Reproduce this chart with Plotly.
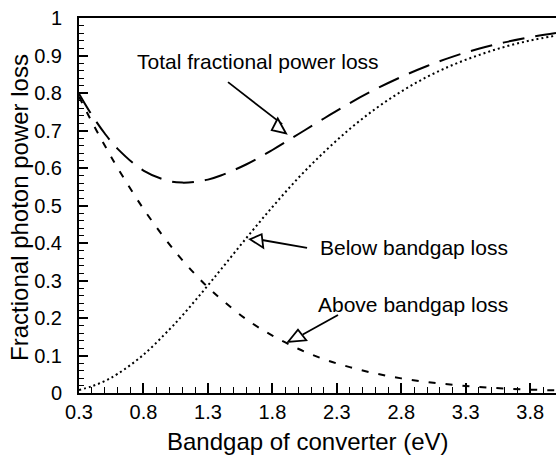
import plotly.graph_objects as go

# Data
bandgap_ev = [0.3, 0.4, 0.5, 0.6, 0.8, 1.0, 1.1, 1.2, 1.3, 1.4, 1.6, 1.8, 2.0,
              2.2, 2.4, 2.6, 2.8, 3.0, 3.2, 3.4, 3.6, 3.8, 4.0]
below_loss = [0.008, 0.018, 0.032, 0.051, 0.102, 0.169, 0.206, 0.246, 0.287,
              0.329, 0.414, 0.496, 0.573, 0.642, 0.704, 0.758, 0.804, 0.843,
              0.875, 0.901, 0.923, 0.940, 0.953]
above_loss = [0.790, 0.723, 0.660, 0.600, 0.491, 0.397, 0.355, 0.317, 0.282,
              0.251, 0.196, 0.153, 0.118, 0.090, 0.069, 0.052, 0.039, 0.029,
              0.022, 0.016, 0.012, 0.009, 0.007]
total_loss = [0.798, 0.741, 0.692, 0.651, 0.593, 0.565, 0.561, 0.563, 0.569,
              0.580, 0.610, 0.648, 0.690, 0.732, 0.773, 0.810, 0.843, 0.872,
              0.897, 0.918, 0.935, 0.949, 0.960]

x_ticks = [0.3, 0.8, 1.3, 1.8, 2.3, 2.8, 3.3, 3.8]
x_tick_labels = ["0.3", "0.8", "1.3", "1.8", "2.3", "2.8", "3.3", "3.8"]
y_ticks = [0, 0.1, 0.2, 0.3, 0.4, 0.5, 0.6, 0.7, 0.8, 0.9, 1]
y_tick_labels = ["0", "0.1", "0.2", "0.3", "0.4", "0.5", "0.6", "0.7", "0.8", "0.9", "1"]

x_title = "Bandgap of converter (eV)"
y_title = "Fractional photon power loss"

FONT = "Liberation Sans, Arial, Helvetica, sans-serif"

fig = go.Figure()
fig.add_trace(go.Scatter(x=bandgap_ev, y=total_loss, mode="lines",
                         line=dict(color="black", width=2, dash="22px,11px", shape="spline"),
                         name="Total fractional power loss", showlegend=False))
fig.add_trace(go.Scatter(x=bandgap_ev, y=above_loss, mode="lines",
                         line=dict(color="black", width=2, dash="7px,10px", shape="spline"),
                         name="Above bandgap loss", showlegend=False))
fig.add_trace(go.Scatter(x=bandgap_ev, y=below_loss, mode="lines",
                         line=dict(color="black", width=2, dash="2px,3px", shape="spline"),
                         name="Below bandgap loss", showlegend=False))

# Labels
labels = [
    dict(text="Total fractional power loss", x=0.734, y=0.883),
    dict(text="Below bandgap loss", x=2.154, y=0.389),
    dict(text="Above bandgap loss", x=2.138, y=0.235),
]
for lab in labels:
    fig.add_annotation(x=lab["x"], y=lab["y"], xref="x", yref="y", text=lab["text"],
                       showarrow=False, xanchor="left", yanchor="middle",
                       font=dict(family=FONT, size=21, color="black"))

# Axis titles
fig.add_annotation(x=0.48, y=-0.128, xref="paper", yref="paper", text=x_title,
                   showarrow=False, xanchor="center", yanchor="middle",
                   font=dict(family=FONT, size=24, color="black"))
fig.add_annotation(x=-0.126, y=0.496, xref="paper", yref="paper", text=y_title,
                   showarrow=False, xanchor="center", yanchor="middle", textangle=-90,
                   font=dict(family=FONT, size=24, color="black"))

# Arrows: (tail, triangle base center, tip, triangle corners in px relative to tip, up positive)
arrows = [
    dict(tail=(1.456, 0.829), base=(1.876, 0.717), tip=(1.906, 0.692),
         c1=(-8.3, 15.0), c2=(-14.3, 3.3)),
    dict(tail=(2.069, 0.387), base=(1.720, 0.408), tip=(1.626, 0.410),
         c1=(11.7, 5.0), c2=(13.3, -8.4)),
    dict(tail=(2.309, 0.208), base=(2.036, 0.156), tip=(1.921, 0.136),
         c1=(10.0, 12.4), c2=(18.3, 1.7)),
]
for a in arrows:
    fig.add_shape(type="line", xref="x", yref="y",
                  x0=a["tail"][0], y0=a["tail"][1], x1=a["base"][0], y1=a["base"][1],
                  line=dict(color="black", width=1.8))
    path = "M0,0 L{},{} L{},{} Z".format(a["c1"][0], a["c1"][1], a["c2"][0], a["c2"][1])
    fig.add_shape(type="path", xref="x", yref="y", xsizemode="pixel", ysizemode="pixel",
                  xanchor=a["tip"][0], yanchor=a["tip"][1], path=path,
                  line=dict(color="black", width=1.8), fillcolor="white")

fig.update_layout(
    width=556, height=455,
    margin=dict(l=79, r=0, t=18, b=62),
    paper_bgcolor="white", plot_bgcolor="white",
    font=dict(family=FONT, size=20, color="black"),
    xaxis=dict(range=[0.3, 4.0], tickvals=x_ticks, ticktext=x_tick_labels,
               ticks="inside", ticklen=10, tickwidth=1.5, tickcolor="black",
               showline=True, linewidth=2, linecolor="black", mirror=True,
               showgrid=False, zeroline=False, ticklabelstandoff=0,
               tickfont=dict(family=FONT, size=20),
               minor=dict(tick0=0.3, dtick=0.1, ticks="inside", ticklen=6,
                          tickwidth=1, tickcolor="black", showgrid=False)),
    yaxis=dict(range=[0, 1], tickvals=y_ticks, ticktext=y_tick_labels,
               ticks="inside", ticklen=9, tickwidth=1.5, tickcolor="black",
               showline=True, linewidth=2, linecolor="black", mirror=False,
               showgrid=False, zeroline=False, ticklabelstandoff=11,
               tickfont=dict(family=FONT, size=20),
               minor=dict(tick0=0, dtick=0.02, ticks="inside", ticklen=5,
                          tickwidth=1, tickcolor="black", showgrid=False)),
)

fig.write_html("out.html")
